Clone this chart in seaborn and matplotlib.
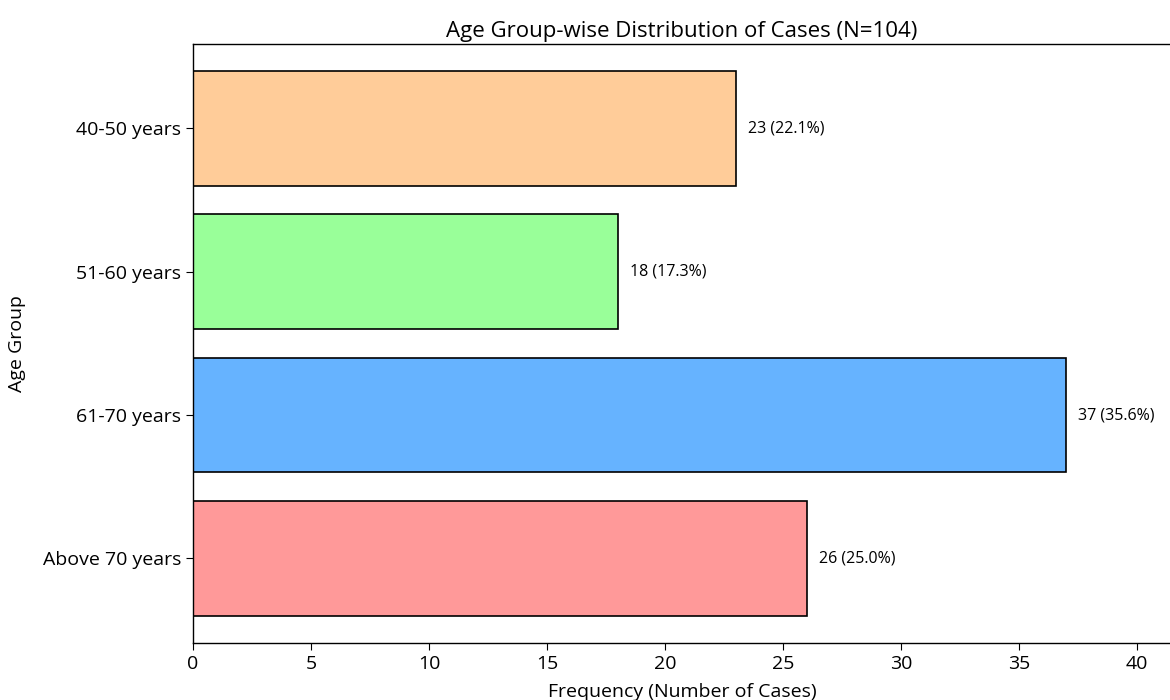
import pandas as pd
import matplotlib
matplotlib.use("Agg")
import matplotlib.pyplot as plt
import seaborn as sns

sns.set_style("white")
plt.rcParams['font.family'] = ['Open Sans', 'DejaVu Sans']
plt.rcParams['text.color'] = 'black'
plt.rcParams['axes.labelcolor'] = 'black'
plt.rcParams['xtick.color'] = 'black'
plt.rcParams['ytick.color'] = 'black'

# data
age_groups = ['40-50 years', '51-60 years', '61-70 years', 'Above 70 years']
counts = [23, 18, 37, 26]
colors = ['#ffcc99', '#99ff99', '#66b3ff', '#ff9999']
total = sum(counts)

df = pd.DataFrame({'Age Group': age_groups, 'Count': counts})

fig = plt.figure(figsize=(11.7, 7), dpi=100)
ax = fig.add_axes([0.165, 0.0814, 0.836, 0.856])

sns.barplot(data=df, x='Count', y='Age Group', hue='Age Group',
            palette=colors, edgecolor='black', linewidth=1.2,
            width=0.8, saturation=1, legend=False, ax=ax)

# count and percentage next to each bar
for i, v in enumerate(counts):
    ax.text(v + 0.5, i, f'{v} ({v / total * 100:.1f}%)',
            va='center', ha='left', fontsize=11.5)

ax.set_xlim(0, max(counts) * 1.12)
ax.set_ylim(3.59, -0.59)
ax.set_xticks(range(0, 45, 5))
ax.set_title(f'Age Group-wise Distribution of Cases (N={total})', fontsize=16, pad=5)
ax.set_xlabel('Frequency (Number of Cases)', fontsize=14, labelpad=7)
ax.set_ylabel('Age Group', fontsize=14, labelpad=12)
ax.tick_params(axis='both', labelsize=14, length=5, left=True, bottom=True)
for s in ax.spines.values():
    s.set_color('black')
    s.set_linewidth(1.0)

fig.savefig('out.png', dpi=100)
